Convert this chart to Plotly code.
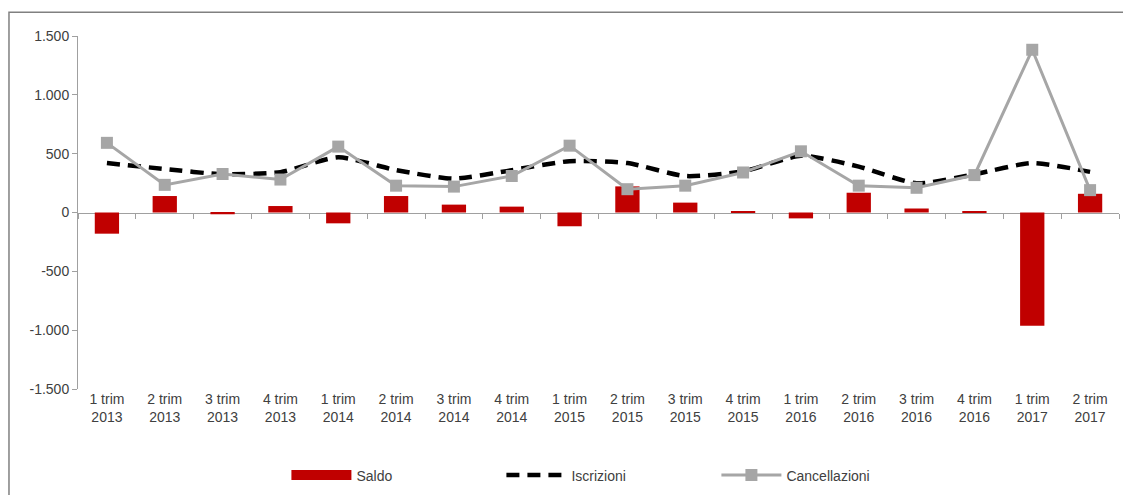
import plotly.graph_objects as go

categories = ["1 trim<br>2013", "2 trim<br>2013", "3 trim<br>2013", "4 trim<br>2013",
              "1 trim<br>2014", "2 trim<br>2014", "3 trim<br>2014", "4 trim<br>2014",
              "1 trim<br>2015", "2 trim<br>2015", "3 trim<br>2015", "4 trim<br>2015",
              "1 trim<br>2016", "2 trim<br>2016", "3 trim<br>2016", "4 trim<br>2016",
              "1 trim<br>2017", "2 trim<br>2017"]
saldo = [-180, 140, -15, 55, -92, 140, 67, 50, -117, 222, 84, 12, -50, 168, 34, 12, -962, 159]
iscrizioni = [420, 370, 325, 343, 469, 360, 288, 360, 436, 420, 310, 350, 482, 390, 248, 325, 420, 345]
cancellazioni = [592, 235, 327, 280, 560, 228, 220, 310, 568, 198, 228, 340, 520, 228, 210, 318, 1383, 190]

ytickvals = [1500, 1000, 500, 0, -500, -1000, -1500]
yticktext = ["1.500", "1.000", "500", "0", "-500", "-1.000", "-1.500"]

font_family = "Liberation Sans, Arial, sans-serif"
text_color = "#404040"
axis_color = "#A0A0A0"
saldo_color = "#C00000"

fig = go.Figure()
fig.add_trace(go.Bar(x=categories, y=saldo, name="Saldo", showlegend=False,
                     marker=dict(color=saldo_color, line=dict(width=0))))
# legend-only entry to show a wide red swatch for Saldo
fig.add_trace(go.Scatter(x=[None], y=[None], name="Saldo", mode="lines",
                         line=dict(color=saldo_color, width=10)))
fig.add_trace(go.Scatter(x=categories, y=iscrizioni, name="Iscrizioni", mode="lines",
                         line=dict(color="black", width=4.5, dash="13px,8px", shape="spline", smoothing=0.6)))
fig.add_trace(go.Scatter(x=categories, y=cancellazioni, name="Cancellazioni", mode="lines+markers",
                         line=dict(color="#A6A6A6", width=3),
                         marker=dict(symbol="square", size=12, color="#A6A6A6")))
# helper trace for the category axis drawn at zero
fig.add_trace(go.Scatter(x=categories, y=[None] * len(categories), xaxis="x2", showlegend=False,
                         hoverinfo="skip", mode="lines"))

fig.update_layout(
    width=1131, height=495,
    margin=dict(l=70, r=20, t=28, b=109),
    paper_bgcolor="white", plot_bgcolor="white",
    font=dict(family=font_family, size=14, color=text_color),
    bargap=0.58,
    showlegend=True,
    legend=dict(orientation="h", x=0.51, xanchor="center", y=-0.245, yanchor="middle",
                font=dict(size=14, color=text_color), itemwidth=60, tracegroupgap=0,
                entrywidth=140),
    xaxis=dict(type="category", range=[-0.5, 17.5], showline=False, ticks="", showgrid=False,
               tickfont=dict(size=14, color=text_color), zeroline=False),
    xaxis2=dict(type="category", range=[-0.5, 17.5], overlaying="x", anchor="free", position=0.5,
                showline=True, linecolor=axis_color, linewidth=1, ticks="outside", ticklen=5,
                tickcolor=axis_color, tickson="boundaries", showticklabels=False, showgrid=False,
                categoryorder="array", categoryarray=categories, layer="below traces"),
    yaxis=dict(range=[-1500, 1500], tickvals=ytickvals, ticktext=yticktext, showline=True,
               linecolor=axis_color, linewidth=1, ticks="outside", ticklen=5, tickcolor=axis_color,
               showgrid=False, zeroline=False, tickfont=dict(size=14, color=text_color)),
    shapes=[dict(type="rect", xref="paper", yref="paper", x0=-0.0663, x1=1.05, y0=-0.35, y1=1.067,
                 line=dict(color="#808080", width=1.5), fillcolor="rgba(0,0,0,0)", layer="below")],
)

fig.write_html("out.html")
